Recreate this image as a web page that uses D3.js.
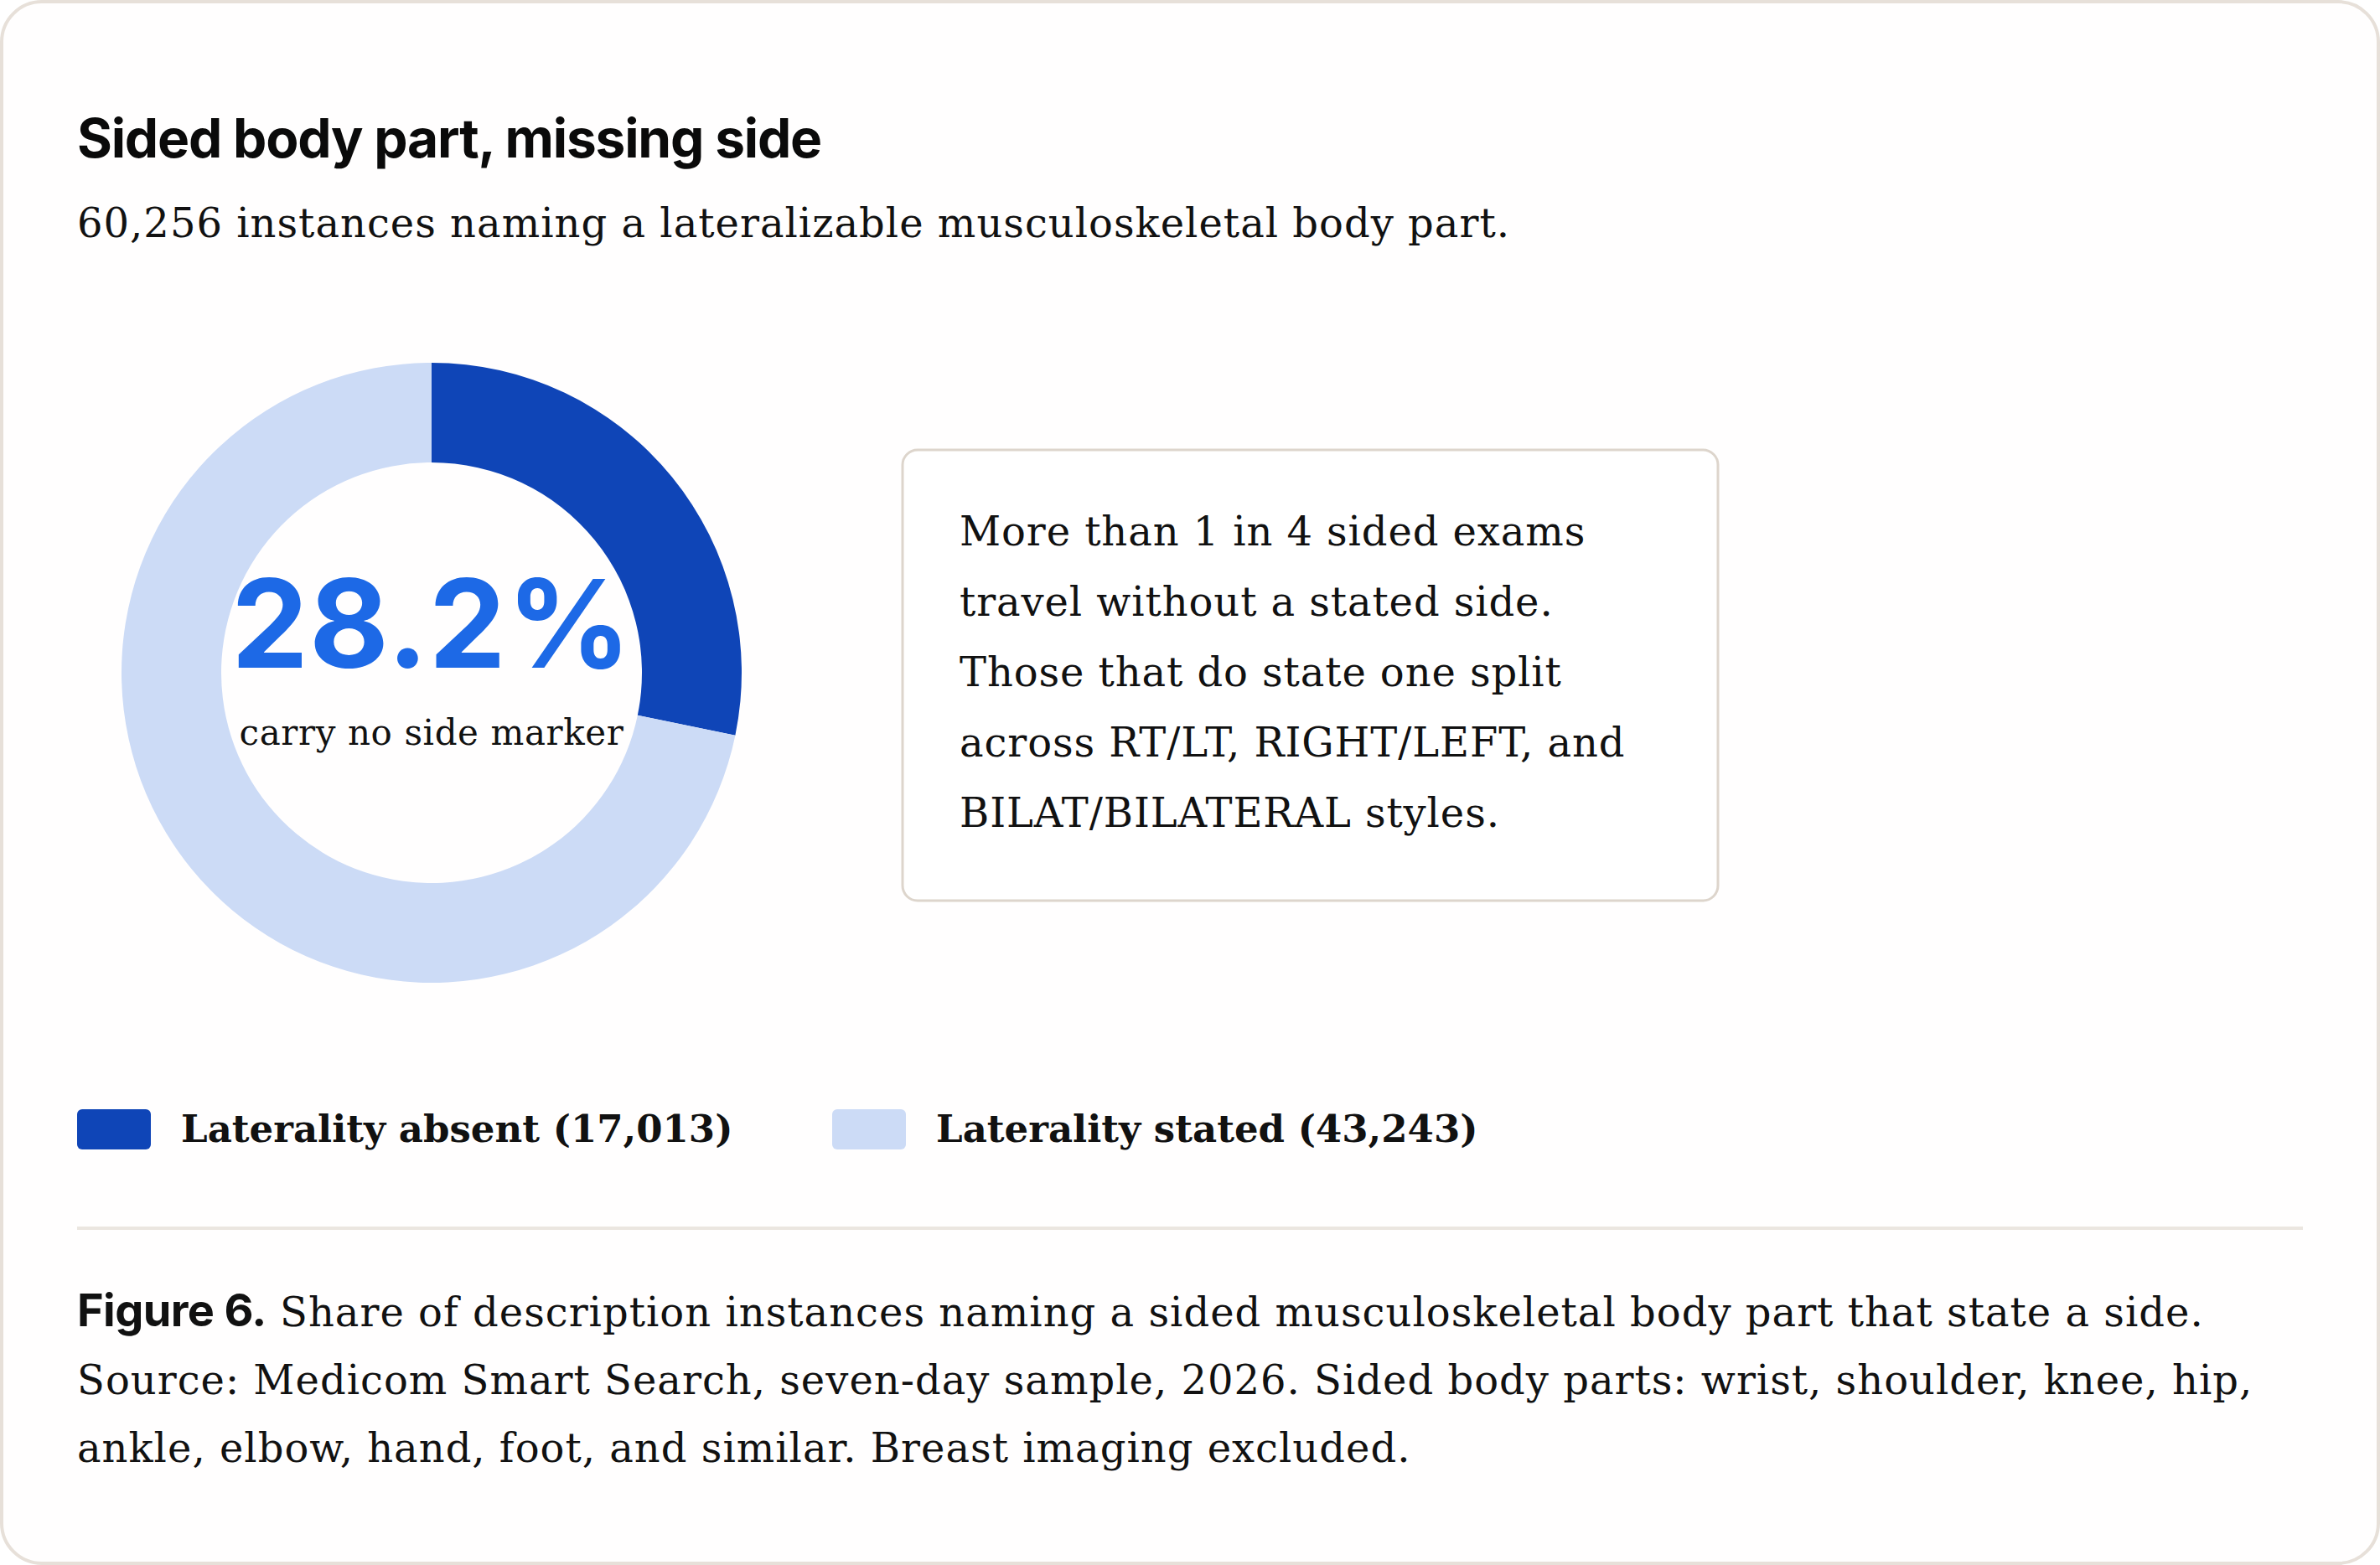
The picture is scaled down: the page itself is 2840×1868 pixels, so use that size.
<!DOCTYPE html>
<html>
<head>
<meta charset="utf-8">
<script src="https://cdn.jsdelivr.net/npm/d3@7"></script>
<style>
  html, body { margin: 0; padding: 0; background: #ffffff; }
  svg { display: block; }
</style>
</head>
<body>
<div id="chart"></div>
<script>
// data
const categories = ["Laterality absent", "Laterality stated"];
const counts = [17013, 43243];
const sliceColors = ["#0f45b7", "#ccdbf6"];

const title = "Sided body part, missing side";
const subtitleTail = " instances naming a lateralizable musculoskeletal body part.";
const centerNote = "carry no side marker";
const calloutLines = [
    "More than 1 in 4 sided exams",
    "travel without a stated side.",
    "Those that do state one split",
    "across RT/LT, RIGHT/LEFT, and",
    "BILAT/BILATERAL styles."
];
const captionLead = "Figure 6.";
const captionLines = [
    " Share of description instances naming a sided musculoskeletal body part that state a side.",
    "Source: Medicom Smart Search, seven-day sample, 2026. Sided body parts: wrist, shoulder, knee, hip,",
    "ankle, elbow, hand, foot, and similar. Breast imaging excluded."
];

const W = 2840, H = 1868;
const serif = "'DejaVu Serif', 'Liberation Serif', serif";
const sans = "Inter, 'Noto Sans', sans-serif";

const svg = d3.select("#chart").append("svg")
    .attr("width", W)
    .attr("height", H);

// card
svg.append("rect")
    .attr("x", 2).attr("y", 2)
    .attr("width", W - 4).attr("height", H - 4)
    .attr("rx", 48)
    .attr("fill", "#fffefe")
    .attr("stroke", "#e7e0d9")
    .attr("stroke-width", 4);

const total = d3.sum(counts);
const fmt = d3.format(",");

// header
svg.append("text")
    .attr("x", 92).attr("y", 188)
    .attr("font-family", sans)
    .attr("font-weight", 700)
    .attr("font-size", 64)
    .attr("letter-spacing", -1.2)
    .attr("fill", "#0a0a0a")
    .text(title);

svg.append("text")
    .attr("x", 92).attr("y", 283)
    .attr("font-family", serif)
    .attr("font-size", 48)
    .attr("letter-spacing", 1)
    .attr("fill", "#111")
    .text(fmt(total) + subtitleTail);

// donut
const cx = 515, cy = 803;
const outerR = 370, innerR = 251;

const pie = d3.pie().sort(null).value(d => d);
const arc = d3.arc().innerRadius(innerR).outerRadius(outerR);

const donut = svg.append("g")
    .attr("transform", `translate(${cx},${cy})`);

donut.selectAll("path")
    .data(pie(counts))
    .join("path")
    .attr("d", arc)
    .attr("fill", (d, i) => sliceColors[i]);

donut.append("text")
    .attr("x", 0).attr("y", -6)
    .attr("text-anchor", "middle")
    .attr("font-family", sans)
    .attr("font-weight", 700)
    .attr("font-size", 146)
    .attr("letter-spacing", 1)
    .attr("fill", "#1d69e6")
    .text(d3.format(".1%")(counts[0] / total));

donut.append("text")
    .attr("x", 0).attr("y", 86)
    .attr("text-anchor", "middle")
    .attr("font-family", serif)
    .attr("font-size", 42)
    .attr("letter-spacing", 0.6)
    .attr("fill", "#111")
    .text(centerNote);

// callout box
const box = svg.append("g").attr("transform", "translate(1077,537)");
box.append("rect")
    .attr("width", 973).attr("height", 538)
    .attr("rx", 18)
    .attr("fill", "#ffffff")
    .attr("stroke", "#ddd5cc")
    .attr("stroke-width", 3);

box.selectAll("text")
    .data(calloutLines)
    .join("text")
    .attr("x", 68)
    .attr("y", (d, i) => 114 + i * 84)
    .attr("font-family", serif)
    .attr("font-size", 48)
    .attr("letter-spacing", 0.9)
    .attr("fill", "#111")
    .text(d => d);

// legend
const legend = svg.append("g").attr("transform", "translate(92,1324)");
const legendX = [0, 901];
const item = legend.selectAll("g")
    .data(categories)
    .join("g")
    .attr("transform", (d, i) => `translate(${legendX[i]},0)`);

item.append("rect")
    .attr("width", 88).attr("height", 48)
    .attr("rx", 6)
    .attr("fill", (d, i) => sliceColors[i]);

item.append("text")
    .attr("x", 124).attr("y", 39)
    .attr("font-family", serif)
    .attr("font-weight", 700)
    .attr("font-size", 45)
    .attr("fill", "#111")
    .text((d, i) => `${d} (${fmt(counts[i])})`);

// divider
svg.append("line")
    .attr("x1", 92).attr("x2", 2748)
    .attr("y1", 1466).attr("y2", 1466)
    .attr("stroke", "#ebe6e0")
    .attr("stroke-width", 4);

// caption
const caption = svg.append("g");
captionLines.forEach((line, i) => {
    const t = caption.append("text")
        .attr("x", 92)
        .attr("y", 1583 + i * 81)
        .attr("font-family", serif)
        .attr("font-size", 48)
        .attr("letter-spacing", 1)
        .attr("fill", "#111");
    if (i === 0) {
        t.append("tspan")
            .attr("font-family", sans)
            .attr("font-weight", 700)
            .attr("font-size", 54)
            .attr("letter-spacing", -0.6)
            .text(captionLead);
    }
    t.append("tspan").text(line);
});
</script>
</body>
</html>
